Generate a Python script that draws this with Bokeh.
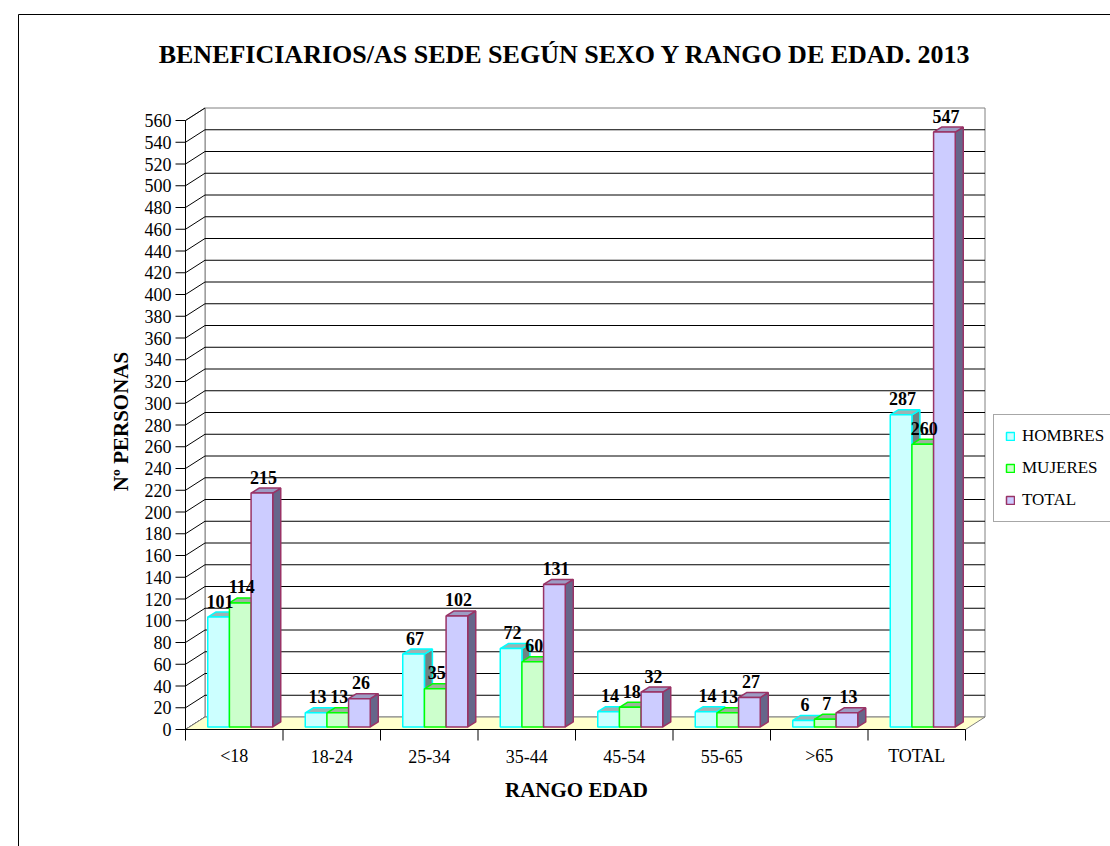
import numpy as np
from bokeh.plotting import figure
from bokeh.models import Range1d, Legend, LegendItem, ColumnDataSource
from bokeh.core.properties import value
from bokeh.embed import file_html
from bokeh.resources import INLINE

# ---------------- data ----------------
categories = ["<18", "18-24", "25-34", "35-44", "45-54", "55-65", ">65", "TOTAL"]
hombres = [101, 13, 67, 72, 14, 14, 6, 287]
mujeres = [114, 13, 35, 60, 18, 13, 7, 260]
total = [215, 26, 102, 131, 32, 27, 13, 547]
series_names = ["HOMBRES", "MUJERES", "TOTAL"]
y_ticks = list(range(0, 561, 20))
y_tick_labels = [str(v) for v in y_ticks]
title_text = "BENEFICIARIOS/AS SEDE SEGÚN SEXO Y RANGO DE EDAD. 2013"
x_title = "RANGO EDAD"
y_title = "Nº PERSONAS"

# ---------------- styles ----------------
front_cols = ["#CCFFFF", "#CCFFCC", "#CCCCFF"]
top_cols = ["#9CB4B4", "#9CB49C", "#9C9CC4"]
side_cols = ["#6E8484", "#6E846E", "#66668A"]
line_cols = ["#00FFFF", "#00FF00", "#993366"]
FONT = value("Liberation Serif")

# ---------------- geometry (page px -> data) ----------------
W, H = 1110, 846
PAGE_OFF = 0
ORIG_X, ORIG_Y = 185.0, 729.0
CAT_PX = 97.5
VAL_PX = 1.0875


def dx(px):
    return px / CAT_PX


def dy(px):
    return px / VAL_PX


def X(page_x):
    return (page_x - ORIG_X) / CAT_PX


def Y(page_y):
    return (ORIG_Y - page_y) / VAL_PX


N = len(categories)
YMAX = y_ticks[-1]
WDX, WDY = dx(19.5), dy(12.5)

p = figure(width=W, height=H, x_range=Range1d(X(PAGE_OFF), X(PAGE_OFF + W)),
           y_range=Range1d(Y(PAGE_OFF + H), Y(PAGE_OFF)), output_backend="svg",
           toolbar_location=None, min_border=0,
           x_axis_location=None, y_axis_location=None)
p.outline_line_color = None
p.background_fill_color = "white"
p.border_fill_color = "white"
p.grid.visible = False

# outer chart border (left & top visible)
p.segment(x0=[X(18), X(18)], y0=[Y(14), Y(14)], x1=[X(18), X(1120)],
          y1=[Y(860), Y(14)], line_color="black", line_width=1)

# walls
p.patch([WDX, N + WDX, N + WDX, WDX], [WDY, WDY, YMAX + WDY, YMAX + WDY],
        fill_color="white", line_color="#808080", line_width=1)
p.patch([0, WDX, WDX, 0], [0, WDY, YMAX + WDY, YMAX],
        fill_color="white", line_color="#808080", line_width=1)
inner = y_ticks[1:-1]
p.segment(x0=[WDX] * len(inner), y0=[v + WDY for v in inner],
          x1=[N + WDX] * len(inner), y1=[v + WDY for v in inner],
          line_color="black", line_width=1)
p.segment(x0=[0] * len(y_ticks), y0=y_ticks, x1=[WDX] * len(y_ticks),
          y1=[v + WDY for v in y_ticks], line_color="black", line_width=1)
# floor
p.patch([0, N, N + WDX, WDX], [0, 0, WDY, WDY], fill_color="#FFFFCC",
        line_color="#808080", line_width=1)

# front axes
p.segment(x0=[0, 0], y0=[0, 0], x1=[0, N], y1=[YMAX, 0], line_color="black", line_width=1)
p.segment(x0=[0] * len(y_ticks), y0=y_ticks, x1=[dx(-10)] * len(y_ticks), y1=y_ticks,
          line_color="black", line_width=1)
bounds = list(range(N + 1))
p.segment(x0=bounds, y0=[0] * len(bounds), x1=bounds, y1=[dy(-11)] * len(bounds),
          line_color="black", line_width=1)
p.text(x=[dx(-14)] * len(y_ticks), y=y_ticks, text=y_tick_labels, text_align="right",
       text_baseline="middle", text_font=FONT, text_font_size="18px", text_color="black")
p.text(x=[c + 0.5 for c in range(N)], y=[dy(-26.5)] * N, text=categories,
       text_align="center", text_baseline="middle", text_font=FONT,
       text_font_size="18px", text_color="black")

# titles
p.text(x=[X(564.5)], y=[Y(54)], text=[title_text], text_align="center",
       text_baseline="middle", text_font=FONT, text_font_size="26px",
       text_font_style="bold", text_color="black")
p.text(x=[X(576)], y=[Y(789)], text=[x_title], text_align="center",
       text_baseline="middle", text_font=FONT, text_font_size="21px",
       text_font_style="bold", text_color="black")
p.text(x=[X(120)], y=[Y(421)], text=[y_title], text_align="center",
       text_baseline="middle", angle=np.pi / 2, text_font=FONT,
       text_font_size="21px", text_font_style="bold", text_color="black")

# ---------------- bars ----------------
GROUP = 2.0 / 3.0
BW = GROUP / 3.0
START = (1 - GROUP) / 2
SHIFT_X, SHIFT_Y = dx(6), dy(2.6)
BDX, BDY = dx(8), dy(5)

all_series = [hombres, mujeres, total]
geo = []
for i, vals in enumerate(all_series):
    x1 = [c + START + i * BW + SHIFT_X for c in range(N)]
    x2 = [a + BW for a in x1]
    b = [SHIFT_Y] * N
    t = [v + SHIFT_Y for v in vals]
    geo.append((x1, x2, b, t))

for i in range(3):
    x1, x2, b, t = geo[i]
    xs = [[r, r + BDX, r + BDX, r] for r in x2]
    ys = [[bb, bb + BDY, tt + BDY, tt] for bb, tt in zip(b, t)]
    p.patches(xs, ys, fill_color=side_cols[i], line_color=line_cols[i], line_width=1.5)
for i in range(3):
    x1, x2, b, t = geo[i]
    xs = [[l, r, r + BDX, l + BDX] for l, r in zip(x1, x2)]
    ys = [[tt, tt, tt + BDY, tt + BDY] for tt in t]
    p.patches(xs, ys, fill_color=top_cols[i], line_color=line_cols[i], line_width=1.5)
fronts = []
for i in range(3):
    x1, x2, b, t = geo[i]
    src = ColumnDataSource(dict(left=x1, right=x2, bottom=b, top=t))
    r = p.quad(left="left", right="right", bottom="bottom", top="top", source=src,
               fill_color=front_cols[i], line_color=line_cols[i], line_width=1.5)
    fronts.append(r)

# data labels
for i, vals in enumerate(all_series):
    x1, x2, b, t = geo[i]
    p.text(x=[(l + r) / 2 + dx(1.5) for l, r in zip(x1, x2)],
           y=[tt + dy(16) for tt in t], text=[str(v) for v in vals],
           text_align="center", text_baseline="alphabetic", text_font=FONT,
           text_font_size="18px", text_font_style="bold", text_color="black")

# legend
legend = Legend(items=[LegendItem(label=series_names[i], renderers=[fronts[i]]) for i in range(3)],
                location=(993, 324), glyph_width=10, glyph_height=10, label_standoff=7,
                padding=11, spacing=12, margin=0, label_text_font="Liberation Serif",
                label_text_font_size="17px", label_text_color="black",
                border_line_color="#505050",
                border_line_width=1, background_fill_color="white",
                background_fill_alpha=1.0)
p.add_layout(legend)

open("out.html", "w").write(file_html(p, INLINE))
